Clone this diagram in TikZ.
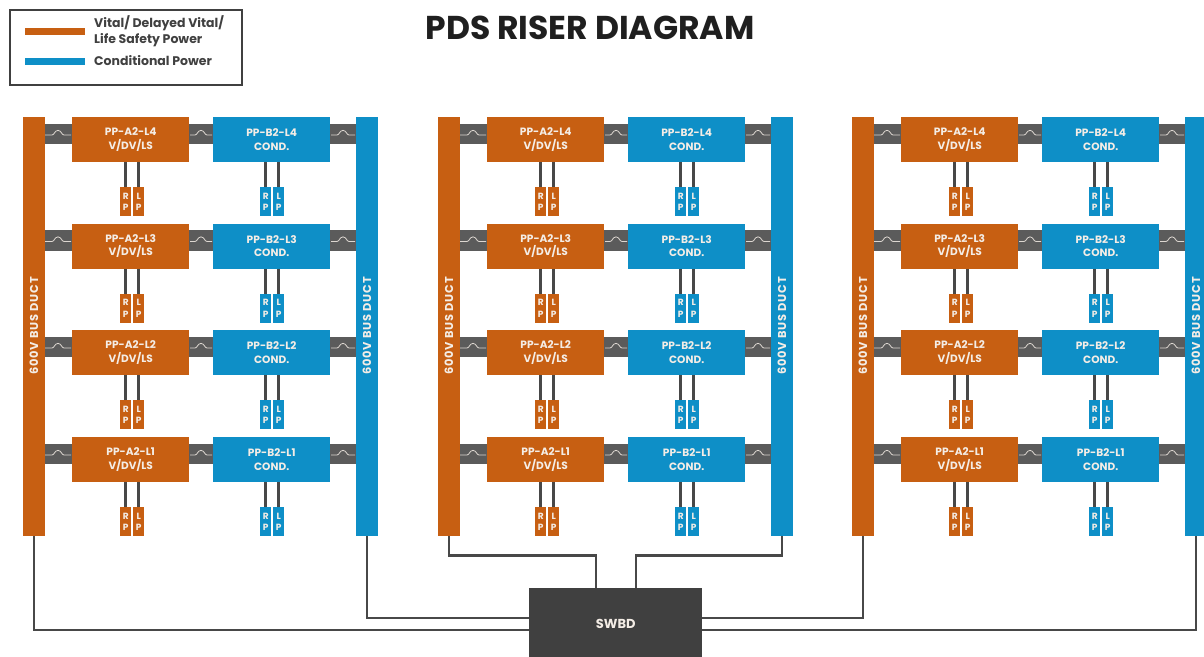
\documentclass[tikz,border=0pt]{standalone}
\usepackage{fontspec}
\setmainfont{Poppins}
\usetikzlibrary{backgrounds}
\definecolor{vital}{HTML}{C75F12}
\definecolor{cond}{HTML}{0E8FC7}
\definecolor{stripgray}{HTML}{5B5B5B}
\definecolor{wiregray}{HTML}{484848}
\definecolor{swbdgray}{HTML}{404040}
\definecolor{labelgray}{HTML}{404040}
\definecolor{softwhite}{HTML}{F4EDE6}
\tikzset{
  box/.style={anchor=north west,inner sep=0pt,minimum width=117pt,minimum height=45pt,align=center,text=softwhite,
     font=\fontsize{10.6}{13.4}\selectfont\bfseries},
  busbar/.style={anchor=north west,inner sep=0pt,minimum width=21.5pt,minimum height=419pt},
  rp/.style={anchor=north west,inner sep=0pt,minimum width=11pt,minimum height=29pt,align=center,text=softwhite,
     font=\fontsize{9}{11.5}\selectfont\bfseries},
  strip/.style={stripgray,line width=20.5pt},
  squig/.style={softwhite!85!stripgray,line width=.8pt},
  wire/.style={wiregray,line width=2.5pt},
  feeder/.style={wiregray,line width=3pt},
  bustext/.style={rotate=90,text=softwhite,font=\fontsize{11.4}{13}\selectfont\bfseries\addfontfeature{LetterSpace=7}},
  legendtext/.style={anchor=west,inner sep=0pt,align=left,text=labelgray,font=\fontsize{12.5}{16}\selectfont\bfseries},
}
% \squigat{x left}{bump centre}{x right}{y}
\newcommand{\squigat}[4]{\draw[squig] (#1,#4) -- (#2-6,#4) .. controls (#2-3.5,#4) and (#2-3.5,#4-4.6) .. (#2,#4-4.6) .. controls (#2+3.5,#4-4.6) and (#2+3.5,#4) .. (#2+6,#4) -- (#3,#4);}
\newcommand{\riserpanel}[2]{%
  \begin{scope}[xshift=#2pt]
    \node[busbar,fill=vital] (#1busL) at (23,117) {};
    \node[busbar,fill=cond] (#1busR) at (356,117) {};
    \node[bustext] (#1txtL) at (33.8,326) {600V BUS DUCT};
    \node[bustext] (#1txtR) at (366.8,326) {600V BUS DUCT};
    \foreach \lev/\yy in {4/117,3/223.5,2/330,1/437}{
      \node[box,fill=vital] (#1a\lev) at (72,\yy) {PP-A2-L\lev\\V/DV/LS};
      \node[box,fill=cond] (#1b\lev) at (213,\yy) {PP-B2-L\lev\\COND.};
      \begin{scope}[on background layer]
      \draw[strip] ([yshift=5.5pt]#1a\lev.west -| #1busL.east) -- ([yshift=5.5pt]#1a\lev.west);
      \draw[strip] ([yshift=5.5pt]#1a\lev.east) -- ([yshift=5.5pt]#1b\lev.west);
      \draw[strip] ([yshift=5.5pt]#1b\lev.east) -- ([yshift=5.5pt]#1b\lev.east -| #1busR.west);
      \end{scope}
      \pgfmathsetmacro{\sy}{\yy+18}
      \squigat{45}{58}{71}{\sy}
      \squigat{190}{201}{212}{\sy}
      \squigat{331}{343}{355}{\sy}
      \pgfmathsetmacro{\ry}{\yy+70}
      \node[rp,fill=vital] (#1ar\lev) at (120,\ry) {R\\P};
      \node[rp,fill=vital] (#1al\lev) at (133,\ry) {L\\P};
      \node[rp,fill=cond] (#1br\lev) at (260,\ry) {R\\P};
      \node[rp,fill=cond] (#1bl\lev) at (273,\ry) {L\\P};
      \draw[feeder] (#1a\lev.south -| #1ar\lev.north) -- (#1ar\lev.north);
      \draw[feeder] (#1a\lev.south -| #1al\lev.north) -- (#1al\lev.north);
      \draw[feeder] (#1b\lev.south -| #1br\lev.north) -- (#1br\lev.north);
      \draw[feeder] (#1b\lev.south -| #1bl\lev.north) -- (#1bl\lev.north);
    }
  \end{scope}}
\begin{document}
\begin{tikzpicture}[x=1pt,y=-1pt]
\useasboundingbox (0,0) rectangle (1204,656);
\clip (0,0) rectangle (1204,656);
% legend
\node[draw=swbdgray,line width=1.8pt,anchor=north west,inner sep=0pt,minimum width=232pt,minimum height=75pt] (legend) at (9,9) {};
\coordinate (lv1) at (25,31.5);
\coordinate (lv2) at (85,31.5);
\coordinate (lc1) at (25,61.5);
\coordinate (lc2) at (85,61.5);
\draw[vital,line width=7pt] (lv1) -- (lv2);
\draw[cond,line width=7pt] (lc1) -- (lc2);
\node[legendtext] (ltv) at (94,31) {Vital/ Delayed Vital/\\Life Safety Power};
\node[legendtext] (ltc) at (94,61) {Conditional Power};
\node[inner sep=0pt,text=black!88,font=\fontsize{33}{36}\selectfont\bfseries] (title) at (590,28) {PDS RISER DIAGRAM};
% panels
\riserpanel{p}{0}
\riserpanel{q}{415}
\riserpanel{r}{829}
% switchboard
\node[anchor=north west,fill=swbdgray,inner sep=0pt,minimum width=173pt,minimum height=72pt,text=softwhite,font=\fontsize{13}{14}\selectfont\bfseries] (swbd) at (529,588) {SWBD};
\coordinate (jL) at (596,555.5);
\coordinate (jR) at (636,555.5);
\draw[wire] (pbusL.south) |- ([yshift=-6pt]swbd.west);
\draw[wire] (pbusR.south) |- ([yshift=6pt]swbd.west);
\draw[wire] (qbusL.south) |- (jL) -- (jL |- swbd.north);
\draw[wire] (qbusR.south) |- (jR) -- (jR |- swbd.north);
\draw[wire] (rbusL.south) |- ([yshift=6pt]swbd.east);
\draw[wire] (rbusR.south) |- ([yshift=-6pt]swbd.east);
\end{tikzpicture}
\end{document}
